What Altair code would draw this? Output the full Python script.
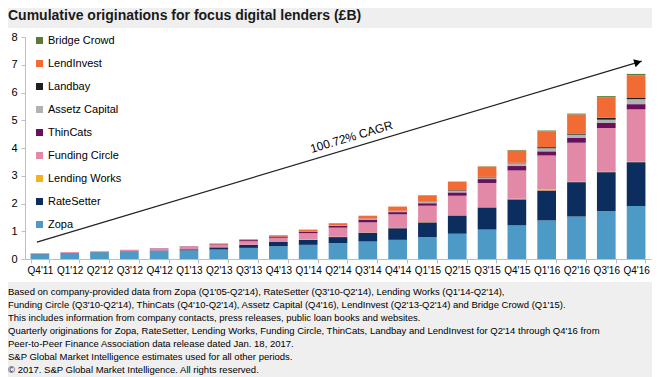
import altair as alt
import pandas as pd

quarters = ["Q4'11", "Q1'12", "Q2'12", "Q3'12", "Q4'12", "Q1'13", "Q2'13", "Q3'13",
            "Q4'13", "Q1'14", "Q2'14", "Q3'14", "Q4'14", "Q1'15", "Q2'15", "Q3'15",
            "Q4'15", "Q1'16", "Q2'16", "Q3'16", "Q4'16"]
lenders = ["Zopa", "RateSetter", "Lending Works", "Funding Circle", "ThinCats",
           "Assetz Capital", "Landbay", "LendInvest", "Bridge Crowd"]
colors = ["#4d9ac7", "#0c2e5f", "#f4b223", "#e289a8", "#6a0f5a",
          "#b2b2b2", "#1f1f1f", "#f26b35", "#5e7a38"]

zopa = [0.17, 0.21, 0.24, 0.26, 0.28, 0.31, 0.34, 0.40, 0.46, 0.51, 0.57, 0.63, 0.69,
        0.79, 0.91, 1.06, 1.21, 1.39, 1.53, 1.73, 1.91]
ratesetter = [0.01, 0.01, 0.01, 0.02, 0.03, 0.04, 0.08, 0.11, 0.15, 0.18, 0.22, 0.32,
              0.42, 0.53, 0.66, 0.80, 0.94, 1.08, 1.24, 1.40, 1.58]
lending_works = [0, 0, 0, 0, 0, 0, 0, 0, 0, 0.01, 0.01, 0.01, 0.01, 0.01, 0.01, 0.01,
                 0.02, 0.04, 0.04, 0.04, 0.04]
funding_circle = [0.03, 0.03, 0.03, 0.05, 0.07, 0.10, 0.09, 0.13, 0.16, 0.23, 0.33, 0.36,
                  0.49, 0.59, 0.70, 0.87, 1.02, 1.22, 1.38, 1.55, 1.86]
thincats = [0, 0, 0, 0, 0.01, 0.01, 0.02, 0.04, 0.04, 0.06, 0.07, 0.10, 0.08, 0.09, 0.12,
            0.14, 0.16, 0.15, 0.17, 0.18, 0.19]
assetz = [0, 0, 0, 0, 0, 0, 0, 0, 0, 0.01, 0.02, 0.03, 0.04, 0.05, 0.06, 0.06, 0.10,
          0.11, 0.12, 0.12, 0.18]
landbay = [0, 0, 0, 0, 0, 0, 0, 0, 0, 0, 0, 0.01, 0.01, 0.01, 0.02, 0.02, 0.02, 0.04,
           0.04, 0.07, 0.06]
lendinvest = [0, 0, 0, 0, 0, 0, 0.03, 0.03, 0.05, 0.06, 0.07, 0.10, 0.15, 0.22, 0.30,
              0.37, 0.44, 0.57, 0.69, 0.73, 0.80]
bridge_crowd = [0, 0, 0, 0, 0, 0, 0, 0, 0, 0, 0, 0, 0, 0.01, 0.01, 0.01, 0.02, 0.03,
                0.03, 0.05, 0.05]

series = [zopa, ratesetter, lending_works, funding_circle, thincats, assetz, landbay,
          lendinvest, bridge_crowd]

y_ticks = [0, 1, 2, 3, 4, 5, 6, 7, 8]

# CAGR arrow, in band units along x (0 = left edge of first band) and £B on y
arrow_x = [0.40, 20.69]
arrow_y = [0.61, 7.13]
head_x = [20.56]
head_y = [7.09]
cagr_label = ["100.72% CAGR"]
cagr_x = [10.95]
cagr_y = [4.40]

title_text = "Cumulative originations for focus digital lenders (£B)"
footer_lines = [
    "Based on company-provided data from Zopa (Q1'05-Q2'14), RateSetter (Q3'10-Q2'14), Lending Works (Q1'14-Q2'14),",
    "Funding Circle (Q3'10-Q2'14), ThinCats (Q4'10-Q2'14), Assetz Capital (Q4'16), LendInvest (Q2'13-Q2'14) and Bridge Crowd (Q1'15).",
    "This includes information from company contacts, press releases, public loan books and websites.",
    "Quarterly originations for Zopa, RateSetter, Lending Works, Funding Circle, ThinCats, Landbay and LendInvest for Q2'14 through Q4'16 from",
    "Peer-to-Peer Finance Association data release dated Jan. 18, 2017.",
    "S&P Global Market Intelligence estimates used for all other periods.",
    "© 2017. S&P Global Market Intelligence. All rights reserved.",
]

FONT = "Liberation Sans, Arial, sans-serif"

rows = []
for li, (name, vals) in enumerate(zip(lenders, series)):
    for qi, (q, v) in enumerate(zip(quarters, vals)):
        rows.append({"quarter": q, "lender": name, "value": v, "order": li})
df = pd.DataFrame(rows)

W, H = 626, 222

panel = alt.Chart(pd.DataFrame({"a": [0]})).mark_rect(color="white").encode(
    x=alt.value(-17), x2=alt.value(630), y=alt.value(-9), y2=alt.value(245)
)

yaxis = alt.Axis(values=y_ticks, grid=False, labelFont=FONT, title=None,
                 labelOverlap=False, labelFlush=False,
                 labelFontSize=11, labelColor="#000", domainColor="#bfbfbf",
                 tickColor="#bfbfbf", tickSize=4, labelPadding=4, zindex=1)

bars = alt.Chart(df).mark_bar(size=18.7).encode(
    x=alt.X("quarter:N", sort=quarters, title=None,
            scale=alt.Scale(paddingInner=0.37, paddingOuter=0.185),
            axis=alt.Axis(labelAngle=0, tickBand="extent", labelOverlap=False,
                          labelFont=FONT, labelFontSize=10, labelColor="#000",
                          domainColor="#bfbfbf", tickColor="#bfbfbf", tickSize=4,
                          labelPadding=2, zindex=1)),
    y=alt.Y("value:Q", stack="zero", title=None,
            scale=alt.Scale(domain=[0, 8], nice=False), axis=yaxis),
    color=alt.Color("lender:N",
                    scale=alt.Scale(domain=lenders[::-1], range=colors[::-1]),
                    legend=alt.Legend(title=None, orient="none", legendX=9, legendY=-2,
                                      padding=0, symbolType="square", symbolSize=49,
                                      symbolStrokeWidth=0, labelFont=FONT,
                                      labelFontSize=11, labelColor="#000",
                                      rowPadding=11, labelOffset=3)),
    order=alt.Order("order:Q", sort="ascending"),
)

xq = alt.X("bx:Q", scale=alt.Scale(domain=[0, 21], nice=False, zero=False), axis=None)
yq = alt.Y("v:Q", title=None, axis=yaxis)

arrow_line = alt.Chart(pd.DataFrame({"bx": arrow_x, "v": arrow_y})).mark_line(
    color="#222", strokeWidth=1.2).encode(x=xq, y=yq)

arrow_head = alt.Chart(pd.DataFrame({"bx": head_x, "v": head_y})).mark_point(
    shape="triangle-up", filled=True, color="#000", size=70, angle=73.4, opacity=1
).encode(x=xq, y=yq)

cagr = alt.Chart(pd.DataFrame({"bx": cagr_x, "v": cagr_y, "t": cagr_label})).mark_text(
    angle=343.4, font=FONT, fontSize=12, color="#000", align="center",
    baseline="middle").encode(x=xq, y=yq, text="t:N")

footer = alt.Chart(pd.DataFrame({"a": [0]})).mark_text(
    text=footer_lines, align="left", baseline="top", font=FONT, fontSize=9.5,
    lineHeight=13, color="#000"
).encode(x=alt.value(-17), y=alt.value(250))

chart = alt.layer(panel, bars, arrow_line, arrow_head, cagr, footer).resolve_scale(
    x="independent"
).properties(
    width=W, height=H,
    autosize=alt.AutoSizeParams(type="none"),
    padding={"left": 17, "top": 29, "right": 1, "bottom": 118},
    background="#efefef",
    title=alt.TitleParams(title_text, anchor="start", font=FONT, fontSize=14,
                          fontWeight="bold", color="#1a1a1a", offset=5),
).configure_view(stroke=None)

chart.save("out.html", embed_options={"renderer": "svg", "actions": False})
